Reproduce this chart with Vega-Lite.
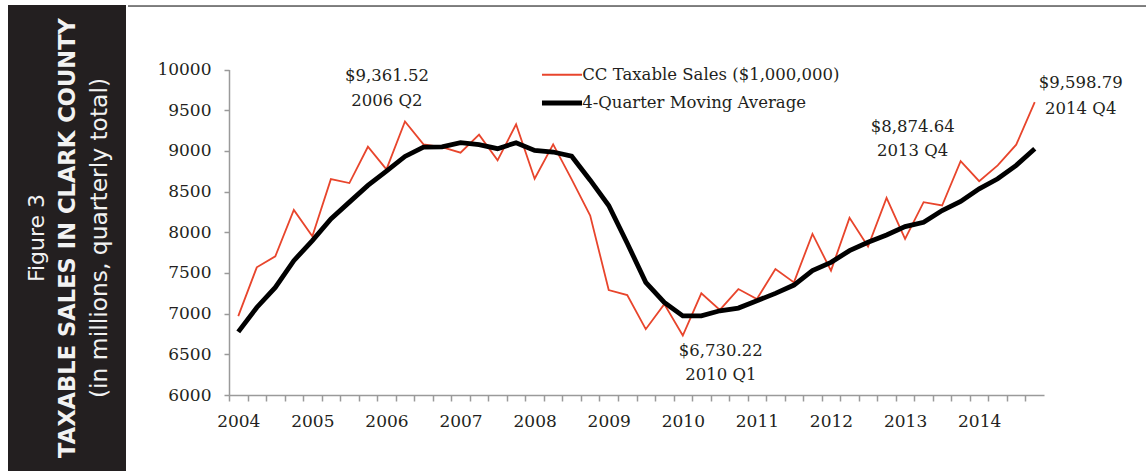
{
  "$schema": "https://vega.github.io/schema/vega-lite/v6.json",
  "padding": {"left": 8, "top": 5, "right": 0, "bottom": 0},
  "autosize": {"type": "pad"},
  "background": "#ffffff",
  "spacing": 1,
  "config": {"view": {"stroke": null}},
  "hconcat": [
    {
      "width": 118,
      "height": 466,
      "view": {"fill": "#231f20", "stroke": null},
      "data": {"values": [
        {"line": "a", "text": "Figure 3"},
        {"line": "b", "text": "TAXABLE SALES IN CLARK COUNTY"},
        {"line": "c", "text": "(in millions, quarterly total)"}
      ]},
      "encoding": {
        "x": {"field": "line", "type": "nominal", "scale": {"type": "point", "domain": ["a", "b", "c"], "range": [28.5, 91.6], "padding": 0}, "axis": null},
        "text": {"field": "text"}
      },
      "layer": [
        {"transform": [{"filter": "datum.line == 'a'"}],
         "mark": {"type": "text", "angle": 270, "align": "center", "baseline": "middle", "font": "DejaVu Sans", "fontSize": 22, "color": "#f2f2f2"}},
        {"transform": [{"filter": "datum.line == 'b'"}],
         "mark": {"type": "text", "angle": 270, "align": "center", "baseline": "middle", "font": "DejaVu Sans", "fontWeight": "bold", "fontSize": 22.6, "color": "#f2f2f2"}},
        {"transform": [{"filter": "datum.line == 'c'"}],
         "mark": {"type": "text", "angle": 270, "align": "center", "baseline": "middle", "font": "DejaVu Sans", "fontSize": 23.4, "color": "#f2f2f2"}}
      ]
    },
    {
      "width": 1019,
      "height": 466,
      "layer": [
        {
          "data": {"values": [
            {"quarter": "2004 Q1", "sales": 6970, "ma": 6776},
            {"quarter": "2004 Q2", "sales": 7569, "ma": 7076},
            {"quarter": "2004 Q3", "sales": 7704, "ma": 7322},
            {"quarter": "2004 Q4", "sales": 8275, "ma": 7651},
            {"quarter": "2005 Q1", "sales": 7951, "ma": 7897},
            {"quarter": "2005 Q2", "sales": 8653, "ma": 8164},
            {"quarter": "2005 Q3", "sales": 8604, "ma": 8370},
            {"quarter": "2005 Q4", "sales": 9051, "ma": 8575},
            {"quarter": "2006 Q1", "sales": 8772, "ma": 8752},
            {"quarter": "2006 Q2", "sales": 9361.52, "ma": 8932},
            {"quarter": "2006 Q3", "sales": 9080, "ma": 9047},
            {"quarter": "2006 Q4", "sales": 9045, "ma": 9050},
            {"quarter": "2007 Q1", "sales": 8978, "ma": 9100},
            {"quarter": "2007 Q2", "sales": 9199, "ma": 9076},
            {"quarter": "2007 Q3", "sales": 8883, "ma": 9027},
            {"quarter": "2007 Q4", "sales": 9327, "ma": 9100},
            {"quarter": "2008 Q1", "sales": 8657, "ma": 9006},
            {"quarter": "2008 Q2", "sales": 9080, "ma": 8986},
            {"quarter": "2008 Q3", "sales": 8650, "ma": 8935},
            {"quarter": "2008 Q4", "sales": 8205, "ma": 8640},
            {"quarter": "2009 Q1", "sales": 7290, "ma": 8329},
            {"quarter": "2009 Q2", "sales": 7228, "ma": 7865},
            {"quarter": "2009 Q3", "sales": 6809, "ma": 7384},
            {"quarter": "2009 Q4", "sales": 7117, "ma": 7138},
            {"quarter": "2010 Q1", "sales": 6730.22, "ma": 6973},
            {"quarter": "2010 Q2", "sales": 7249, "ma": 6973},
            {"quarter": "2010 Q3", "sales": 7045, "ma": 7035},
            {"quarter": "2010 Q4", "sales": 7302, "ma": 7068},
            {"quarter": "2011 Q1", "sales": 7179, "ma": 7158},
            {"quarter": "2011 Q2", "sales": 7548, "ma": 7249},
            {"quarter": "2011 Q3", "sales": 7384, "ma": 7351},
            {"quarter": "2011 Q4", "sales": 7980, "ma": 7528},
            {"quarter": "2012 Q1", "sales": 7528, "ma": 7630},
            {"quarter": "2012 Q2", "sales": 8177, "ma": 7774},
            {"quarter": "2012 Q3", "sales": 7824, "ma": 7877},
            {"quarter": "2012 Q4", "sales": 8423, "ma": 7967},
            {"quarter": "2013 Q1", "sales": 7918, "ma": 8070},
            {"quarter": "2013 Q2", "sales": 8370, "ma": 8123},
            {"quarter": "2013 Q3", "sales": 8329, "ma": 8267},
            {"quarter": "2013 Q4", "sales": 8874.64, "ma": 8378},
            {"quarter": "2014 Q1", "sales": 8628, "ma": 8534},
            {"quarter": "2014 Q2", "sales": 8822, "ma": 8657},
            {"quarter": "2014 Q3", "sales": 9076, "ma": 8822},
            {"quarter": "2014 Q4", "sales": 9598.79, "ma": 9027}
          ]},
          "transform": [{"fold": ["sales", "ma"], "as": ["series", "value"]}],
          "mark": {"type": "line"},
          "encoding": {
            "x": {"field": "quarter", "type": "ordinal",
                  "scale": {"type": "band", "paddingInner": 0, "paddingOuter": 0, "range": [101, 916]},
                  "axis": {"orient": "bottom", "offset": -76, "tickOffset": -9.26, "labelOffset": 9.26, "title": null, "grid": false,
                           "labelExpr": "indexof(datum.value, 'Q1') >= 0 ? slice(datum.value, 0, 4) : ''",
                           "labelOverlap": false, "labelAngle": 0, "labelFont": "DejaVu Serif", "labelFontSize": 17,
                           "labelColor": "#231f20", "labelPadding": 12, "domainColor": "#9a9a9a", "domainWidth": 1.5,
                           "tickColor": "#9a9a9a", "tickWidth": 1.5, "tickSize": 6}},
            "y": {"field": "value", "type": "quantitative",
                  "scale": {"domain": [6000, 10000], "range": [390, 64.5], "nice": false, "zero": false},
                  "axis": {"offset": -101, "values": [6000, 6500, 7000, 7500, 8000, 8500, 9000, 9500, 10000],
                           "format": "d", "title": null, "grid": false, "labelFont": "DejaVu Serif", "labelFontSize": 17,
                           "labelColor": "#231f20", "labelPadding": 13, "domainColor": "#9a9a9a", "domainWidth": 1.5,
                           "tickColor": "#9a9a9a", "tickWidth": 1.5, "tickSize": 5}},
            "color": {"field": "series", "type": "nominal",
                      "scale": {"domain": ["sales", "ma"], "range": ["#e8452c", "#000000"]},
                      "legend": {"orient": "none", "legendX": 544.5, "legendY": 61.5, "title": null,
                                 "symbolType": "M-3,0H3", "symbolSize": 178, "labelOffset": 10.75, "rowPadding": 9, "padding": 0,
                                 "labelFont": "DejaVu Serif", "labelFontSize": 16.5, "labelColor": "#231f20",
                                 "labelLimit": 0,
                                 "labelExpr": "datum.label == 'sales' ? 'CC Taxable Sales ($1,000,000)' : '4-Quarter Moving Average'",
                                 "encode": {"symbols": {"update": {"strokeWidth": {"scale": "strokeWidth", "field": "value"}}}}}},
            "strokeWidth": {"field": "series", "type": "nominal",
                      "scale": {"domain": ["sales", "ma"], "range": [1.8, 4.8]}, "legend": null}
          }
        },
        {
          "data": {"values": [{"quarter": "2006 Q2", "value": 9361.52, "label": "$9,361.52\n2006 Q2"}]},
          "mark": {"type": "text", "font": "DejaVu Serif", "fontSize": 16.5, "lineHeight": 25, "lineBreak": "\n", "align": "center", "baseline": "middle", "dx": -18, "dy": -45, "color": "#231f20"},
          "encoding": {"x": {"field": "quarter", "type": "ordinal"}, "y": {"field": "value", "type": "quantitative"}, "text": {"field": "label"}}
        },
        {
          "data": {"values": [{"quarter": "2010 Q1", "value": 6730.22, "label": "$6,730.22\n2010 Q1"}]},
          "mark": {"type": "text", "font": "DejaVu Serif", "fontSize": 16.5, "lineHeight": 24, "lineBreak": "\n", "align": "center", "baseline": "middle", "dx": 38, "dy": 15, "color": "#231f20"},
          "encoding": {"x": {"field": "quarter", "type": "ordinal"}, "y": {"field": "value", "type": "quantitative"}, "text": {"field": "label"}}
        },
        {
          "data": {"values": [{"quarter": "2013 Q4", "value": 8874.64, "label": "$8,874.64\n2013 Q4"}]},
          "mark": {"type": "text", "font": "DejaVu Serif", "fontSize": 16.5, "lineHeight": 24, "lineBreak": "\n", "align": "center", "baseline": "middle", "dx": -48, "dy": -34, "color": "#231f20"},
          "encoding": {"x": {"field": "quarter", "type": "ordinal"}, "y": {"field": "value", "type": "quantitative"}, "text": {"field": "label"}}
        },
        {
          "data": {"values": [{"quarter": "2014 Q4", "value": 9598.79, "label": "$9,598.79\n2014 Q4"}]},
          "mark": {"type": "text", "font": "DejaVu Serif", "fontSize": 16.5, "lineHeight": 26, "lineBreak": "\n", "align": "center", "baseline": "middle", "dx": 46, "dy": -19, "color": "#231f20"},
          "encoding": {"x": {"field": "quarter", "type": "ordinal"}, "y": {"field": "value", "type": "quantitative"}, "text": {"field": "label"}}
        },
        {
          "data": {"values": [{"edge": 10780}]},
          "mark": {"type": "rule", "color": "#000000", "strokeWidth": 1},
          "encoding": {"y": {"field": "edge", "type": "quantitative"}}
        }
      ]
    }
  ]
}
